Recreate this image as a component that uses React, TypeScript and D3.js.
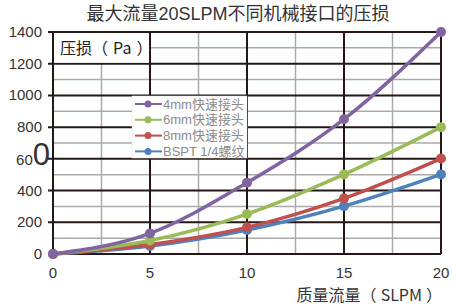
import React from "react";
import * as d3 from "d3";

const xValues = [0, 5, 10, 15, 20];
const seriesNames = ["4mm快速接头", "6mm快速接头", "8mm快速接头", "BSPT 1/4螺纹"];
const series4mm = [0, 130, 450, 850, 1400];
const series6mm = [0, 85, 252, 502, 800];
const series8mm = [0, 60, 168, 351, 602];
const seriesBSPT = [0, 50, 151, 302, 502];
const seriesColors = ["#8064a2", "#9bbb59", "#c0504d", "#4f81bd"];
const yTicks = [0, 200, 400, 600, 800, 1000, 1200, 1400];
const yMinor = [100, 300, 500, 700, 900, 1100, 1300];
const xMajor = [0, 5, 10, 15, 20];
const xMinor = [2.5, 7.5, 12.5, 17.5];
const title = "最大流量20SLPM不同机械接口的压损";
const yTitleParts = ["压损（", "Pa", "）"];
const xTitleParts = ["质量流量（", "SLPM", "）"];

const W = 452, H = 306;
const L = 53, R = 441, T = 32, B = 254;
const FONT = "'Liberation Sans', 'Noto Sans CJK SC', sans-serif";
const CJK = "'Noto Sans CJK SC', 'Liberation Sans', sans-serif";

export default function App() {
  const x = d3.scaleLinear().domain([0, 20]).range([L, R]);
  const y = d3.scaleLinear().domain([0, 1400]).range([B, T]);
  const all = [series4mm, series6mm, series8mm, seriesBSPT];
  const line = d3
    .line<number>()
    .x((_, i) => x(xValues[i]))
    .y((d) => y(d))
    .curve(d3.curveMonotoneX);
  const black = "#231815";
  const gray = "#aaaaaa";
  const drawOrder = [3, 2, 1, 0];
  return (
    <svg width={W} height={H} style={{ position: "absolute", left: 0, top: 0, background: "#fff" }} fontFamily={FONT}>
      <rect x={0} y={0} width={W} height={H} fill="#fff" />
      <text x={238} y={20} textAnchor="middle" fontSize={18} fill="#333">{title}</text>
      {yMinor.map((v) => (
        <line key={"ym" + v} x1={L} x2={R} y1={y(v)} y2={y(v)} stroke={gray} strokeWidth={1.5} />
      ))}
      {xMinor.map((v) => (
        <line key={"xm" + v} x1={x(v)} x2={x(v)} y1={T} y2={B} stroke={gray} strokeWidth={1.5} />
      ))}
      {yTicks.map((v) => (
        <line key={"yM" + v} x1={L - 5} x2={R} y1={y(v)} y2={y(v)} stroke={black} strokeWidth={2} />
      ))}
      {xMajor.map((v) => (
        <line key={"xM" + v} x1={x(v)} x2={x(v)} y1={T} y2={B} stroke={black} strokeWidth={2} />
      ))}
      {yTicks.map((v) =>
        v === 600 ? (
          <text key={"yl" + v} x={50} y={y(v) + 6} textAnchor="end" fill="#333">
            <tspan fontSize={15}>60</tspan>
            <tspan fontSize={31}>0</tspan>
          </text>
        ) : (
          <text key={"yl" + v} x={42} y={y(v) + 5} textAnchor="end" fontSize={15} fill="#333">{v}</text>
        )
      )}
      {xMajor.map((v) => (
        <text key={"xl" + v} x={x(v)} y={278} textAnchor="middle" fontSize={15} fill="#333">{v}</text>
      ))}
      <rect x={L + 1} y={T + 1} width={x(5) - L - 2} height={y(1200) - T - 2} fill="#fff" />
      <text x={60} y={54} fontSize={16} fill="#222" fontFamily={CJK}>
        <tspan>{yTitleParts[0]}</tspan>
        <tspan dx={5}>{yTitleParts[1]}</tspan>
        <tspan dx={5}>{yTitleParts[2]}</tspan>
      </text>
      <rect x={132} y={96} width={115} height={62} fill="#fff" stroke="#e0e0e0" strokeWidth={0.5} />
      {seriesNames.map((n, i) => {
        const cy = 104 + i * 15.8;
        return (
          <g key={n}>
            <line x1={135} x2={162} y1={cy} y2={cy} stroke={seriesColors[i]} strokeWidth={2} />
            <circle cx={148} cy={cy} r={3.5} fill={seriesColors[i]} />
            <text x={163} y={cy + 4.5} fontSize={13} fill="#8a8a8a">{n}</text>
          </g>
        );
      })}
      {drawOrder.map((i) => (
        <g key={"s" + i}>
          <path d={line(all[i]) || ""} fill="none" stroke={seriesColors[i]} strokeWidth={3.5} />
          {all[i].map((v, j) => (
            <circle key={j} cx={x(xValues[j])} cy={y(v)} r={5} fill={seriesColors[i]} />
          ))}
        </g>
      ))}
      <text x={442} y={301} textAnchor="end" fontSize={16} fill="#333" fontFamily={CJK}>
        <tspan>{xTitleParts[0]}</tspan>
        <tspan dx={4}>{xTitleParts[1]}</tspan>
        <tspan dx={4}>{xTitleParts[2]}</tspan>
      </text>
    </svg>
  );
}
